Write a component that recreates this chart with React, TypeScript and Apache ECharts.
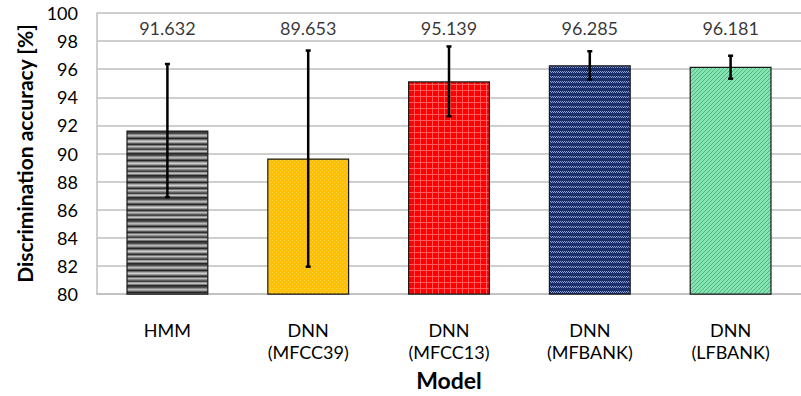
import React, { useEffect, useRef } from "react";
import * as echarts from "echarts";

const categories = ["HMM", "DNN\n(MFCC39)", "DNN\n(MFCC13)", "DNN\n(MFBANK)", "DNN\n(LFBANK)"];
const accuracy = [91.632, 89.653, 95.139, 96.285, 96.181];
const errLow = [86.9, 81.95, 92.65, 95.27, 95.33];
const errHigh = [96.37, 97.33, 97.62, 97.28, 96.96];
const yTicks = { min: 80, max: 100, interval: 2 };
const labelLevel = 98.95;

function makeCanvas(w: number, h: number, draw: (ctx: CanvasRenderingContext2D) => void) {
  const c = document.createElement("canvas");
  c.width = w;
  c.height = h;
  const ctx = c.getContext("2d")!;
  draw(ctx);
  return c;
}

function patterns() {
  const hmm = makeCanvas(4, 22, (ctx) => {
    const rows = ["#3a3a3a", "#505050", "#8a8a8a", "#b8b8b8", "#9a9a9a", "#5a5a5a", "#262626", "#6a6a6a", "#a8a8a8", "#cfcfcf", "#9c9c9c", "#585858", "#303030", "#777777", "#bdbdbd", "#8c8c8c", "#5c5c5c", "#444444", "#9a9a9a", "#c4c4c4", "#7a7a7a", "#2a2a2a"];
    rows.forEach((c, i) => {
      ctx.fillStyle = c;
      ctx.fillRect(0, i, 4, 1);
    });
  });
  const gold = makeCanvas(4, 4, (ctx) => {
    ctx.fillStyle = "#FFC000";
    ctx.fillRect(0, 0, 4, 4);
    ctx.fillStyle = "#FFD24A";
    ctx.fillRect(0, 0, 1, 1);
    ctx.fillRect(2, 2, 1, 1);
  });
  const red = makeCanvas(6, 6, (ctx) => {
    ctx.fillStyle = "#FF0000";
    ctx.fillRect(0, 0, 6, 6);
    ctx.fillStyle = "#FF5A5A";
    ctx.fillRect(0, 0, 6, 1);
    ctx.fillRect(0, 0, 1, 6);
    ctx.fillStyle = "#F01010";
    ctx.fillRect(3, 3, 1, 1);
  });
  const navy = makeCanvas(6, 5, (ctx) => {
    ctx.fillStyle = "#1B2F6B";
    ctx.fillRect(0, 0, 6, 5);
    ctx.fillStyle = "#8E9FD0";
    ctx.fillRect(0, 1, 1, 1);
    ctx.fillRect(1, 2, 1, 1);
    ctx.fillRect(2, 1, 1, 1);
    ctx.fillRect(3, 2, 1, 1);
    ctx.fillRect(4, 1, 1, 1);
    ctx.fillRect(5, 2, 1, 1);
  });
  const green = makeCanvas(4, 4, (ctx) => {
    ctx.fillStyle = "#86E3B2";
    ctx.fillRect(0, 0, 4, 4);
    ctx.fillStyle = "#4FB683";
    for (let i = 0; i < 4; i++) ctx.fillRect(i, 3 - i, 1, 1);
  });
  return [hmm, gold, red, navy, green].map((image) => ({ image, repeat: "repeat" }));
}

export default function App() {
  const ref = useRef<HTMLDivElement>(null);
  useEffect(() => {
    document.body.style.margin = "0";
    const chart = echarts.init(ref.current!, null, { renderer: "svg" });
    const pats = patterns();
    const font = "Lato";
    chart.setOption({
      animation: false,
      backgroundColor: "#ffffff",
      grid: { left: 97, top: 13, width: 714, height: 287 },
      xAxis: {
        type: "category",
        data: categories,
        name: "Model",
        nameLocation: "middle",
        nameGap: 62,
        nameTextStyle: { fontFamily: font, fontWeight: "bold", fontSize: 23, color: "#000" },
        axisLine: { lineStyle: { color: "#BFBFBF", width: 1.5 } },
        axisTick: { show: false },
        axisLabel: { fontFamily: font, fontSize: 18, color: "#000", margin: 25, lineHeight: 22, interval: 0 },
      },
      yAxis: {
        type: "value",
        min: yTicks.min,
        max: yTicks.max,
        interval: yTicks.interval,
        name: "Discrimination accuracy [%]",
        nameLocation: "middle",
        nameGap: 62,
        nameTextStyle: { fontFamily: font, fontWeight: "bold", fontSize: 21, color: "#000" },
        axisLine: { show: true, lineStyle: { color: "#BFBFBF", width: 1.5 } },
        axisTick: { show: false },
        axisLabel: { fontFamily: font, fontSize: 18, color: "#000", margin: 19 },
        splitLine: { lineStyle: { color: "#BFBFBF", width: 1.5 } },
      },
      series: [
        {
          type: "bar",
          barWidth: 82,
          data: accuracy.map((v, i) => ({
            value: v,
            itemStyle: { color: pats[i], borderColor: "#1a1a1a", borderWidth: 1.2 },
          })),
        },
        {
          type: "custom",
          data: accuracy.map((_, i) => [i, errLow[i], errHigh[i]]),
          renderItem: (params: any, api: any) => {
            const lo = api.coord([api.value(0), api.value(1)]);
            const hi = api.coord([api.value(0), api.value(2)]);
            const cap = 2.5;
            const style = { stroke: "#000", lineWidth: 2.5 };
            return {
              type: "group",
              children: [
                { type: "line", shape: { x1: hi[0], y1: hi[1], x2: lo[0], y2: lo[1] }, style },
                { type: "line", shape: { x1: hi[0] - cap, y1: hi[1], x2: hi[0] + cap, y2: hi[1] }, style },
                { type: "line", shape: { x1: lo[0] - cap, y1: lo[1], x2: lo[0] + cap, y2: lo[1] }, style },
              ],
            };
          },
          z: 5,
        },
        {
          type: "scatter",
          symbolSize: 0,
          data: accuracy.map((_, i) => [i, labelLevel]),
          label: {
            show: true,
            position: "inside",
            formatter: (p: any) => accuracy[p.dataIndex].toFixed(3),
            fontFamily: font,
            fontSize: 18,
            color: "#000",
          },
          z: 6,
        },
      ],
    });
    return () => chart.dispose();
  }, []);
  return <div ref={ref} style={{ width: 801, height: 396 }} />;
}
